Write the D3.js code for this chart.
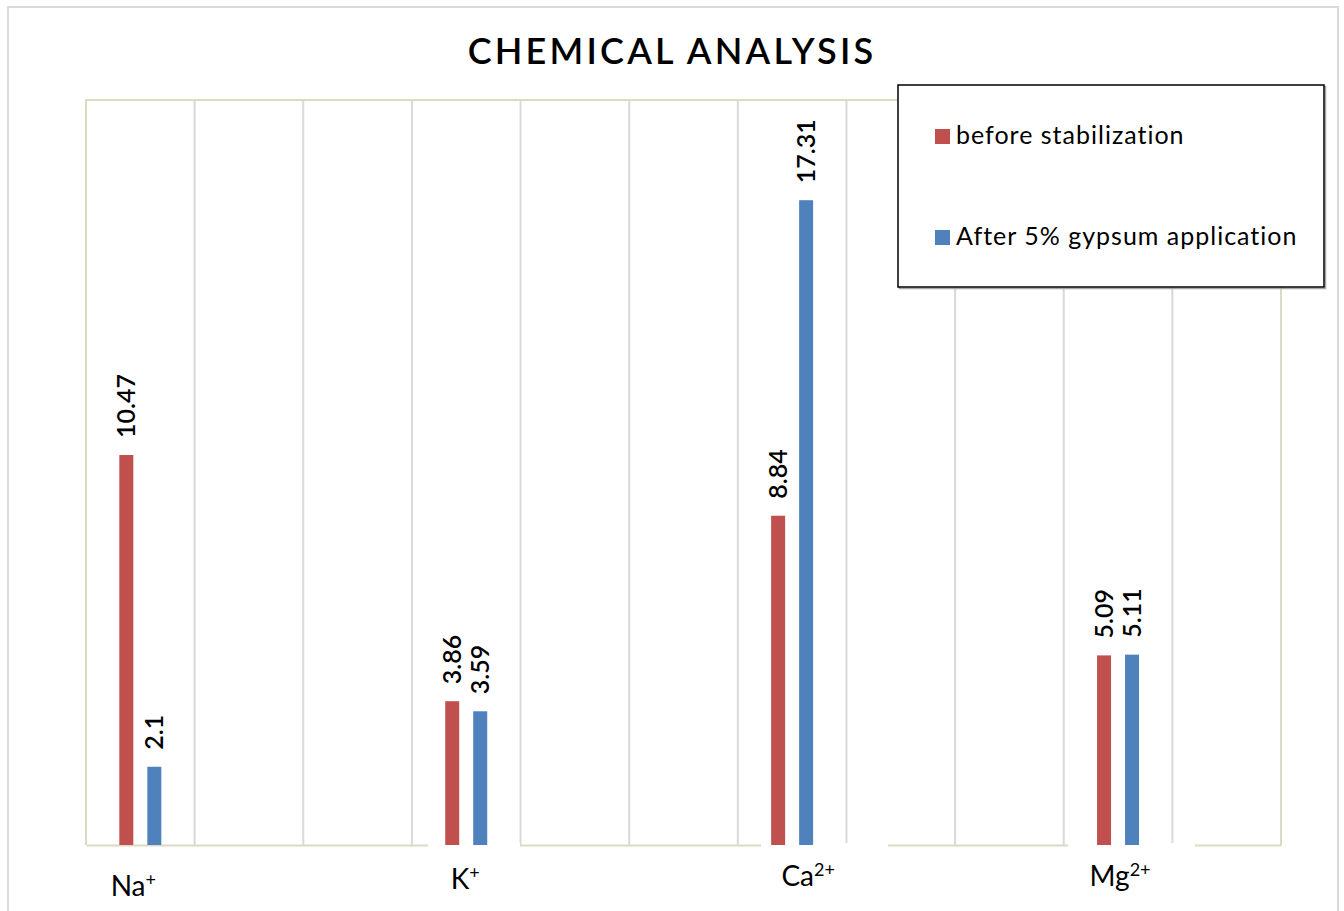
<!DOCTYPE html>
<html>
<head>
<meta charset="utf-8">
<script src="https://cdn.jsdelivr.net/npm/d3@7"></script>
<style>
  html, body { margin: 0; padding: 0; background: #ffffff; }
  svg { display: block; }
</style>
</head>
<body>
<svg id="chart" width="1344" height="911"></svg>
<script>
// Ion concentrations measured in the soil samples
const ionSymbols = ["Na", "K", "Ca", "Mg"];
const ionCharges = ["+", "+", "2+", "2+"];
const ionSlots = [0, 3, 6, 9];          // category slot each ion sits in
const slotCount = 11;                    // total category slots on the axis
const beforeValues = [10.47, 3.86, 8.84, 5.09];
const afterValues = [2.1, 3.59, 17.31, 5.11];
const seriesNames = ["before stabilization", "After 5% gypsum application"];
const seriesColors = ["#C0504D", "#4F81BD"];
const yDomain = [0, 20];

const svg = d3.select("#chart");
const plot = { left: 86, right: 1281, top: 100, bottom: 845 };
const fontFamily = "Lato, 'Open Sans', sans-serif";

// outer chart frame
svg.append("rect")
  .attr("x", 8).attr("y", 7)
  .attr("width", 1330).attr("height", 920)
  .attr("fill", "#ffffff")
  .attr("stroke", "#D9D9D9").attr("stroke-width", 2);

// scales
const x = d3.scaleBand()
  .domain(d3.range(slotCount))
  .range([plot.left, plot.right])
  .paddingInner(0).paddingOuter(0);

const groupWidth = 42;
const xSeries = d3.scaleBand()
  .domain([0, 1])
  .range([0, groupWidth])
  .paddingInner(0.5);

const y = d3.scaleLinear().domain(yDomain).range([plot.bottom, plot.top]);

// plot area border (top, left, right)
svg.append("path")
  .attr("d", `M${plot.left},${plot.bottom} V${plot.top} H${plot.right} V${plot.bottom}`)
  .attr("fill", "none")
  .attr("stroke", "#DDD9C3").attr("stroke-width", 2);

// category axis line
const xAxis = d3.axisBottom(x).tickSize(0).tickFormat("");
const axisG = svg.append("g")
  .attr("transform", `translate(0,${plot.bottom})`)
  .call(xAxis);
axisG.select(".domain").attr("stroke", "#DDD9C3").attr("stroke-width", 2);

// vertical gridlines on the slot boundaries
const boundaries = d3.range(1, slotCount).map(i => x(i));
svg.append("g")
  .selectAll("line")
  .data(boundaries)
  .join("line")
  .attr("x1", d => d).attr("x2", d => d)
  .attr("y1", plot.top + 1).attr("y2", plot.bottom)
  .attr("stroke", "#D9D9D9").attr("stroke-width", 2);

// white text boxes behind the category labels (they cut into the axis line)
const labelBoxes = [
  { x0: 428, x1: 520 },
  { x0: 761, x1: 888 },
  { x0: 1068, x1: 1195 }
];
svg.append("g")
  .selectAll("rect")
  .data(labelBoxes)
  .join("rect")
  .attr("x", d => d.x0).attr("y", plot.bottom - 2)
  .attr("width", d => d.x1 - d.x0).attr("height", 6)
  .attr("fill", "#ffffff");

// bars
const rows = ionSymbols.map((sym, i) => ({
  sym, charge: ionCharges[i], slot: ionSlots[i],
  values: [beforeValues[i], afterValues[i]]
}));

const groups = svg.append("g")
  .selectAll("g")
  .data(rows)
  .join("g")
  .attr("transform", d => `translate(${x(d.slot) + (x.bandwidth() - groupWidth) / 2},0)`);

groups.selectAll("rect")
  .data(d => d.values.map((v, s) => ({ v, s })))
  .join("rect")
  .attr("x", d => xSeries(d.s))
  .attr("width", xSeries.bandwidth())
  .attr("y", d => y(d.v))
  .attr("height", d => y(0) - y(d.v))
  .attr("fill", d => seriesColors[d.s]);

// value labels, rotated above each bar
groups.selectAll("text")
  .data(d => d.values.map((v, s) => ({ v, s })))
  .join("text")
  .attr("transform", d => `translate(${xSeries(d.s) + xSeries.bandwidth() / 2},${y(d.v) - 17}) rotate(-90)`)
  .attr("dy", "0.36em")
  .attr("text-anchor", "start")
  .attr("font-family", fontFamily)
  .attr("font-size", 25)
  .attr("font-weight", 600)
  .attr("fill", "#000000")
  .text(d => d3.format("")(d.v));

// category labels with superscript charges
const labelShift = [-7, -1, 16, 2];
const labelBaselines = [896, 889, 886, 886];
const catLabels = svg.append("g")
  .selectAll("text")
  .data(rows)
  .join("text")
  .attr("x", (d, i) => x(d.slot) + x.bandwidth() / 2 + labelShift[i])
  .attr("y", (d, i) => labelBaselines[i])
  .attr("text-anchor", "middle")
  .attr("font-family", fontFamily)
  .attr("font-size", 28)
  .attr("fill", "#000000");
catLabels.append("tspan").text(d => d.sym);
catLabels.append("tspan")
  .attr("font-size", 18)
  .attr("dy", -10)
  .text(d => d.charge);

// title
svg.append("text")
  .attr("x", 672).attr("y", 64)
  .attr("text-anchor", "middle")
  .attr("font-family", fontFamily)
  .attr("font-size", 36)
  .attr("font-weight", 600)
  .attr("letter-spacing", 3.2)
  .attr("fill", "#000000")
  .text("CHEMICAL ANALYSIS");

// legend
const legend = svg.append("g").attr("transform", "translate(898,85)");
legend.append("rect")
  .attr("x", 1.5).attr("y", 1.5)
  .attr("width", 426).attr("height", 202)
  .attr("fill", "none")
  .attr("stroke", "#A6A6A6").attr("stroke-width", 1.5);
legend.append("rect")
  .attr("width", 426).attr("height", 202)
  .attr("fill", "#ffffff")
  .attr("stroke", "#000000").attr("stroke-width", 1.5);

const legendItems = legend.selectAll("g.item")
  .data(seriesNames)
  .join("g")
  .attr("class", "item")
  .attr("transform", (d, i) => `translate(37,${44 + i * 101})`);

legendItems.append("rect")
  .attr("width", 15).attr("height", 15)
  .attr("fill", (d, i) => seriesColors[i]);

legendItems.append("text")
  .attr("x", 21).attr("y", 15)
  .attr("font-family", fontFamily)
  .attr("font-size", 25)
  .attr("letter-spacing", 1)
  .attr("fill", "#000000")
  .text(d => d);
</script>
</body>
</html>
